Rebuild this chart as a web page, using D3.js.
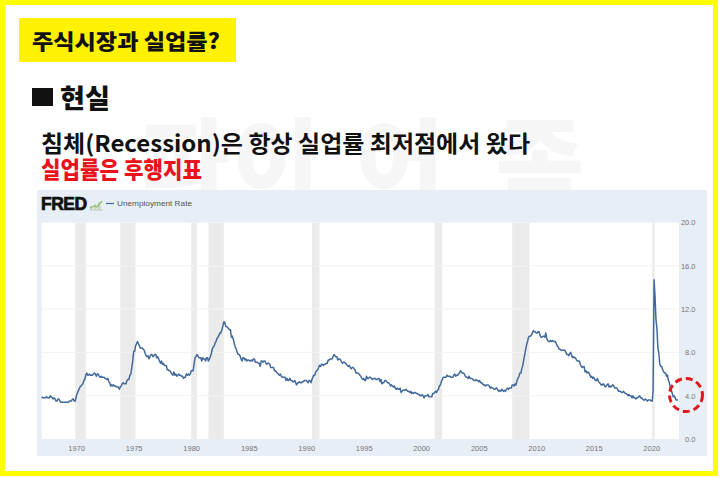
<!DOCTYPE html>
<html><head><meta charset="utf-8">
<script src="https://cdn.jsdelivr.net/npm/d3@7"></script>
<style>
html,body{margin:0;padding:0;background:#fff;}
svg{display:block;}
</style></head>
<body>
<script>
// ---- data: US unemployment rate (monthly, %, seasonally adjusted) ----
const startYear = 1967;
const rate1960s = [
 3.9,3.8,3.8,3.8,3.8,3.9,3.8,3.8,3.8,4.0,3.9,3.8,
 3.7,3.8,3.7,3.5,3.5,3.7,3.7,3.5,3.4,3.4,3.4,3.4,
 3.4,3.4,3.4,3.4,3.4,3.5,3.5,3.5,3.7,3.7,3.5,3.5];
const rate1970s = [
 3.9,4.2,4.4,4.6,4.8,4.9,5.0,5.1,5.4,5.5,5.9,6.1,
 5.9,5.9,6.0,5.9,5.9,5.9,6.0,6.1,6.0,5.8,6.0,6.0,
 5.8,5.7,5.8,5.7,5.7,5.7,5.6,5.6,5.5,5.6,5.3,5.2,
 4.9,5.0,4.9,5.0,4.9,4.9,4.8,4.8,4.8,4.6,4.8,4.9,
 5.1,5.2,5.1,5.1,5.1,5.4,5.5,5.5,5.9,6.0,6.6,7.2,
 8.1,8.1,8.6,8.8,9.0,8.8,8.6,8.4,8.4,8.4,8.3,8.2,
 7.9,7.7,7.6,7.7,7.4,7.6,7.8,7.8,7.6,7.7,7.8,7.8,
 7.5,7.6,7.4,7.2,7.0,7.2,6.9,7.0,6.8,6.8,6.8,6.4,
 6.4,6.3,6.3,6.1,6.0,5.9,6.2,5.9,6.0,5.8,5.9,6.0,
 5.9,5.9,5.8,5.8,5.6,5.7,5.7,6.0,5.9,6.0,5.9,6.0];
const rate1980s = [
 6.3,6.3,6.3,6.9,7.5,7.6,7.8,7.7,7.5,7.5,7.5,7.2,
 7.5,7.4,7.4,7.2,7.5,7.5,7.2,7.4,7.6,7.9,8.3,8.5,
 8.6,8.9,9.0,9.3,9.4,9.6,9.8,9.8,10.1,10.4,10.8,10.8,
 10.4,10.4,10.3,10.2,10.1,10.1,9.4,9.5,9.2,8.8,8.5,8.3,
 8.0,7.8,7.8,7.7,7.4,7.2,7.5,7.5,7.3,7.4,7.2,7.3,
 7.3,7.2,7.2,7.3,7.2,7.4,7.4,7.1,7.1,7.1,7.0,7.0,
 6.7,7.2,7.2,7.1,7.2,7.2,7.0,6.9,7.0,7.0,6.9,6.6,
 6.6,6.6,6.6,6.3,6.3,6.2,6.1,6.0,5.9,6.0,5.8,5.7,
 5.7,5.7,5.7,5.4,5.6,5.4,5.4,5.6,5.4,5.4,5.3,5.3,
 5.4,5.2,5.0,5.2,5.2,5.3,5.2,5.2,5.3,5.3,5.4,5.4];
const rate1990s = [
 5.4,5.3,5.2,5.4,5.4,5.2,5.5,5.7,5.9,5.9,6.2,6.3,
 6.4,6.6,6.8,6.7,6.9,6.9,6.8,6.9,6.9,7.0,7.0,7.3,
 7.3,7.4,7.4,7.4,7.6,7.8,7.7,7.6,7.6,7.3,7.4,7.4,
 7.3,7.1,7.0,7.1,7.1,7.0,6.9,6.8,6.7,6.8,6.6,6.5,
 6.6,6.6,6.5,6.4,6.1,6.1,6.1,6.0,5.9,5.8,5.6,5.5,
 5.6,5.4,5.4,5.8,5.6,5.6,5.7,5.7,5.6,5.5,5.6,5.6,
 5.6,5.5,5.5,5.6,5.6,5.3,5.5,5.1,5.2,5.2,5.4,5.4,
 5.3,5.2,5.2,5.1,4.9,5.0,4.9,4.8,4.9,4.7,4.6,4.7,
 4.6,4.6,4.7,4.3,4.4,4.5,4.5,4.5,4.6,4.5,4.4,4.4,
 4.3,4.4,4.2,4.3,4.2,4.3,4.3,4.2,4.2,4.1,4.1,4.0];
const rate2000s = [
 4.0,4.1,4.0,3.8,4.0,4.0,4.0,4.1,3.9,3.9,3.9,3.9,
 4.2,4.2,4.3,4.4,4.3,4.5,4.6,4.9,5.0,5.3,5.5,5.7,
 5.7,5.7,5.7,5.9,5.8,5.8,5.8,5.7,5.7,5.7,5.9,6.0,
 5.8,5.9,5.9,6.0,6.1,6.3,6.2,6.1,6.1,6.0,5.8,5.7,
 5.7,5.6,5.8,5.6,5.6,5.6,5.5,5.4,5.4,5.5,5.4,5.4,
 5.3,5.4,5.2,5.2,5.1,5.0,5.0,4.9,5.0,5.0,5.0,4.9,
 4.7,4.8,4.7,4.7,4.6,4.6,4.7,4.7,4.5,4.4,4.5,4.4,
 4.6,4.5,4.4,4.5,4.4,4.6,4.7,4.6,4.7,4.7,4.7,5.0,
 5.0,4.9,5.1,5.0,5.4,5.6,5.8,6.1,6.1,6.5,6.8,7.3,
 7.8,8.3,8.7,9.0,9.4,9.5,9.5,9.6,9.8,10.0,9.9,9.9];
const rate2010s = [
 9.8,9.8,9.9,9.9,9.6,9.4,9.4,9.5,9.5,9.4,9.8,9.3,
 9.1,9.0,9.0,9.1,9.0,9.1,9.0,9.0,9.0,8.8,8.6,8.5,
 8.3,8.3,8.2,8.2,8.2,8.2,8.2,8.0,7.8,7.8,7.7,7.9,
 8.0,7.7,7.5,7.6,7.5,7.5,7.3,7.2,7.2,7.2,6.9,6.7,
 6.6,6.7,6.7,6.2,6.3,6.1,6.2,6.1,5.9,5.7,5.8,5.6,
 5.7,5.5,5.4,5.4,5.6,5.3,5.2,5.1,5.0,5.0,5.1,5.0,
 4.8,4.9,5.0,5.1,4.8,4.9,4.8,4.9,5.0,4.9,4.7,4.7,
 4.7,4.6,4.4,4.4,4.4,4.3,4.3,4.4,4.3,4.2,4.2,4.1,
 4.0,4.1,4.0,4.0,3.8,4.0,3.8,3.8,3.7,3.8,3.8,3.9,
 4.0,3.8,3.8,3.7,3.6,3.6,3.7,3.6,3.5,3.6,3.6,3.6];
const rate2020s = [
 3.5,3.5,4.4,14.7,13.2,11.0,10.2,8.4,7.9,6.9,6.7,6.7,
 6.4,6.2,6.1,6.1,5.8,5.9,5.4,5.2,4.7,4.5,4.2,3.9,
 4.0,3.8,3.6,3.6,3.6];
const recessionStart = ["1969-12","1973-11","1980-01","1981-07","1990-07","2001-03","2007-12","2020-02"];
const recessionEnd   = ["1970-11","1975-03","1980-07","1982-11","1991-03","2001-11","2009-06","2020-04"];
const xTickYears = [1970,1975,1980,1985,1990,1995,2000,2005,2010,2015,2020];
const yTickValues = [0,4,8,12,16,20];
const seriesName = "Unemployment Rate";
const titleText = "주식시장과 실업률?";
const headingText = "현실";
const line1Text = "침체(Recession)은 항상 실업률 최저점에서 왔다";
const line2Text = "실업률은 후행지표";
const watermarkChars = ["파","이","어","족"];

// ---- build series ----
const monthly = [].concat(rate1960s, rate1970s, rate1980s, rate1990s, rate2000s, rate2010s, rate2020s);
const series = monthly.map((v,i)=>({date:new Date(Date.UTC(startYear + Math.floor(i/12), i%12, 1)), value:v}));
const parseYM = s => { const [y,m]=s.split("-").map(Number); return new Date(Date.UTC(y,m-1,1)); };
const recessions = recessionStart.map((s,i)=>({start:parseYM(s), end:parseYM(recessionEnd[i])}));

const W = 720, H = 478;
const svg = d3.select("body").append("svg").attr("width",W).attr("height",H);
const KR = "'Noto Sans CJK KR','Noto Sans',sans-serif";

svg.append("rect").attr("width",W).attr("height",H).attr("fill","#fff");

// faint watermark (partly hidden behind the chart panel)
const wmX = [186, 276, 400, 540];
svg.append("g").selectAll("text").data(watermarkChars).join("text")
  .attr("x",(d,i)=>wmX[i]).attr("y",198).attr("text-anchor","middle")
  .attr("font-family",KR).attr("font-weight",900).attr("font-size",96)
  .attr("fill","#f6f6f7").text(d=>d);

// title box
svg.append("rect").attr("x",19).attr("y",18).attr("width",217).attr("height",44).attr("fill","#fff200");
svg.append("text").attr("x",32).attr("y",40).attr("dominant-baseline","central")
  .attr("font-family",KR).attr("font-weight",900).attr("font-size",21).attr("fill","#111")
  .attr("textLength",188).attr("lengthAdjust","spacingAndGlyphs").text(titleText);

// heading
svg.append("rect").attr("x",32).attr("y",88).attr("width",21).attr("height",18).attr("fill","#111");
svg.append("text").attr("x",60).attr("y",96).attr("dominant-baseline","central")
  .attr("font-family",KR).attr("font-weight",900).attr("font-size",26).attr("fill","#111")
  .attr("textLength",50).attr("lengthAdjust","spacingAndGlyphs").text(headingText);

svg.append("text").attr("x",41).attr("y",142).attr("dominant-baseline","central")
  .attr("font-family",KR).attr("font-weight",700).attr("font-size",23).attr("fill","#111")
  .attr("textLength",489).attr("lengthAdjust","spacingAndGlyphs").text(line1Text);
svg.append("text").attr("x",41).attr("y",168).attr("dominant-baseline","central")
  .attr("font-family",KR).attr("font-weight",900).attr("font-size",23).attr("fill","#e8141b")
  .attr("textLength",161).attr("lengthAdjust","spacingAndGlyphs").text(line2Text);

// FRED panel
const panel = {x:37, y:190, w:670, h:266};
svg.append("rect").attr("x",panel.x).attr("y",panel.y).attr("width",panel.w).attr("height",panel.h).attr("fill","#e7eef5");

const plot = {left:41.7, right:679, top:222.5, bottom:439};
svg.append("rect").attr("x",plot.left).attr("y",plot.top).attr("width",plot.right-plot.left).attr("height",plot.bottom-plot.top).attr("fill","#fff");

const x = d3.scaleUtc().domain([series[0].date, series[series.length-1].date]).range([plot.left, plot.right-1]);
const y = d3.scaleLinear().domain([0,20]).range([plot.bottom, plot.top]);

// recession shading
svg.append("g").selectAll("rect").data(recessions).join("rect")
  .attr("x",d=>x(d.start)).attr("width",d=>Math.max(2.5, x(d.end)-x(d.start)))
  .attr("y",plot.top).attr("height",plot.bottom-plot.top).attr("fill","#ebebeb");

// gridlines
svg.append("g").selectAll("line").data(yTickValues.filter(v=>v>0)).join("line")
  .attr("x1",plot.left).attr("x2",plot.right).attr("y1",d=>y(d)).attr("y2",d=>y(d))
  .attr("stroke","#f3f3f3").attr("stroke-width",1);

// line
svg.append("path").datum(series)
  .attr("d", d3.line().x(d=>x(d.date)).y(d=>y(d.value)))
  .attr("fill","none").attr("stroke","#41699c").attr("stroke-width",1.5).attr("stroke-linejoin","round");

// x axis
const xAxis = d3.axisBottom(x).tickValues(xTickYears.map(yr=>new Date(Date.UTC(yr,0,1))))
  .tickFormat(d3.utcFormat("%Y")).tickSize(0).tickPadding(7);
const gx = svg.append("g").attr("transform",`translate(0,${plot.bottom})`).call(xAxis);
gx.select(".domain").remove();
gx.selectAll("text").attr("font-family","'Liberation Sans',Arial,sans-serif").attr("font-size",7.5).attr("fill","#777");

// y axis (right)
const yAxis = d3.axisRight(y).tickValues(yTickValues).tickFormat(d3.format(".1f")).tickSize(0).tickPadding(0);
const gy = svg.append("g").attr("transform",`translate(695.5,0)`).call(yAxis);
gy.select(".domain").remove();
gy.selectAll("text").attr("text-anchor","end").attr("font-family","'Liberation Sans',Arial,sans-serif").attr("font-size",7.5).attr("fill","#777");

// FRED logo + legend
svg.append("text").attr("x",41).attr("y",209.5).attr("font-family","'Liberation Sans',Arial,sans-serif")
  .attr("font-weight",700).attr("font-size",17.5).attr("fill","#111").attr("stroke","#111").attr("stroke-width",0.7)
  .attr("letter-spacing",-0.5).text("FRED");
const icon = svg.append("g").attr("transform","translate(90,199)");
icon.append("rect").attr("x",0).attr("y",7).attr("width",2.5).attr("height",4).attr("fill","#c9d3c0");
icon.append("rect").attr("x",4).attr("y",5).attr("width",2.5).attr("height",6).attr("fill","#c9d3c0");
icon.append("rect").attr("x",8).attr("y",3).attr("width",2.5).attr("height",8).attr("fill","#c9d3c0");
icon.append("path").attr("d","M0,9 L4,7 L7,8 L12,2").attr("fill","none").attr("stroke","#8fbf6a").attr("stroke-width",1.2);
icon.append("line").attr("x1",0).attr("x2",13).attr("y1",11).attr("y2",11).attr("stroke","#b9c7ad").attr("stroke-width",0.8);
svg.append("line").attr("x1",106).attr("x2",114).attr("y1",203.5).attr("y2",203.5).attr("stroke","#41699c").attr("stroke-width",1.2);
svg.append("text").attr("x",117).attr("y",206.3).attr("font-family","'Liberation Sans',Arial,sans-serif")
  .attr("font-size",7.8).attr("fill","#555").attr("textLength",75).attr("lengthAdjust","spacingAndGlyphs").text(seriesName);

// red dashed circle at the latest value
svg.append("circle").attr("cx",686).attr("cy",395).attr("r",16.5)
  .attr("fill","none").attr("stroke","#e0191e").attr("stroke-width",3).attr("stroke-dasharray","7,4");

// yellow frame
svg.append("rect").attr("x",2.5).attr("y",2.5).attr("width",713).attr("height",471)
  .attr("fill","none").attr("stroke","#ffff00").attr("stroke-width",5);
</script>
</body></html>
